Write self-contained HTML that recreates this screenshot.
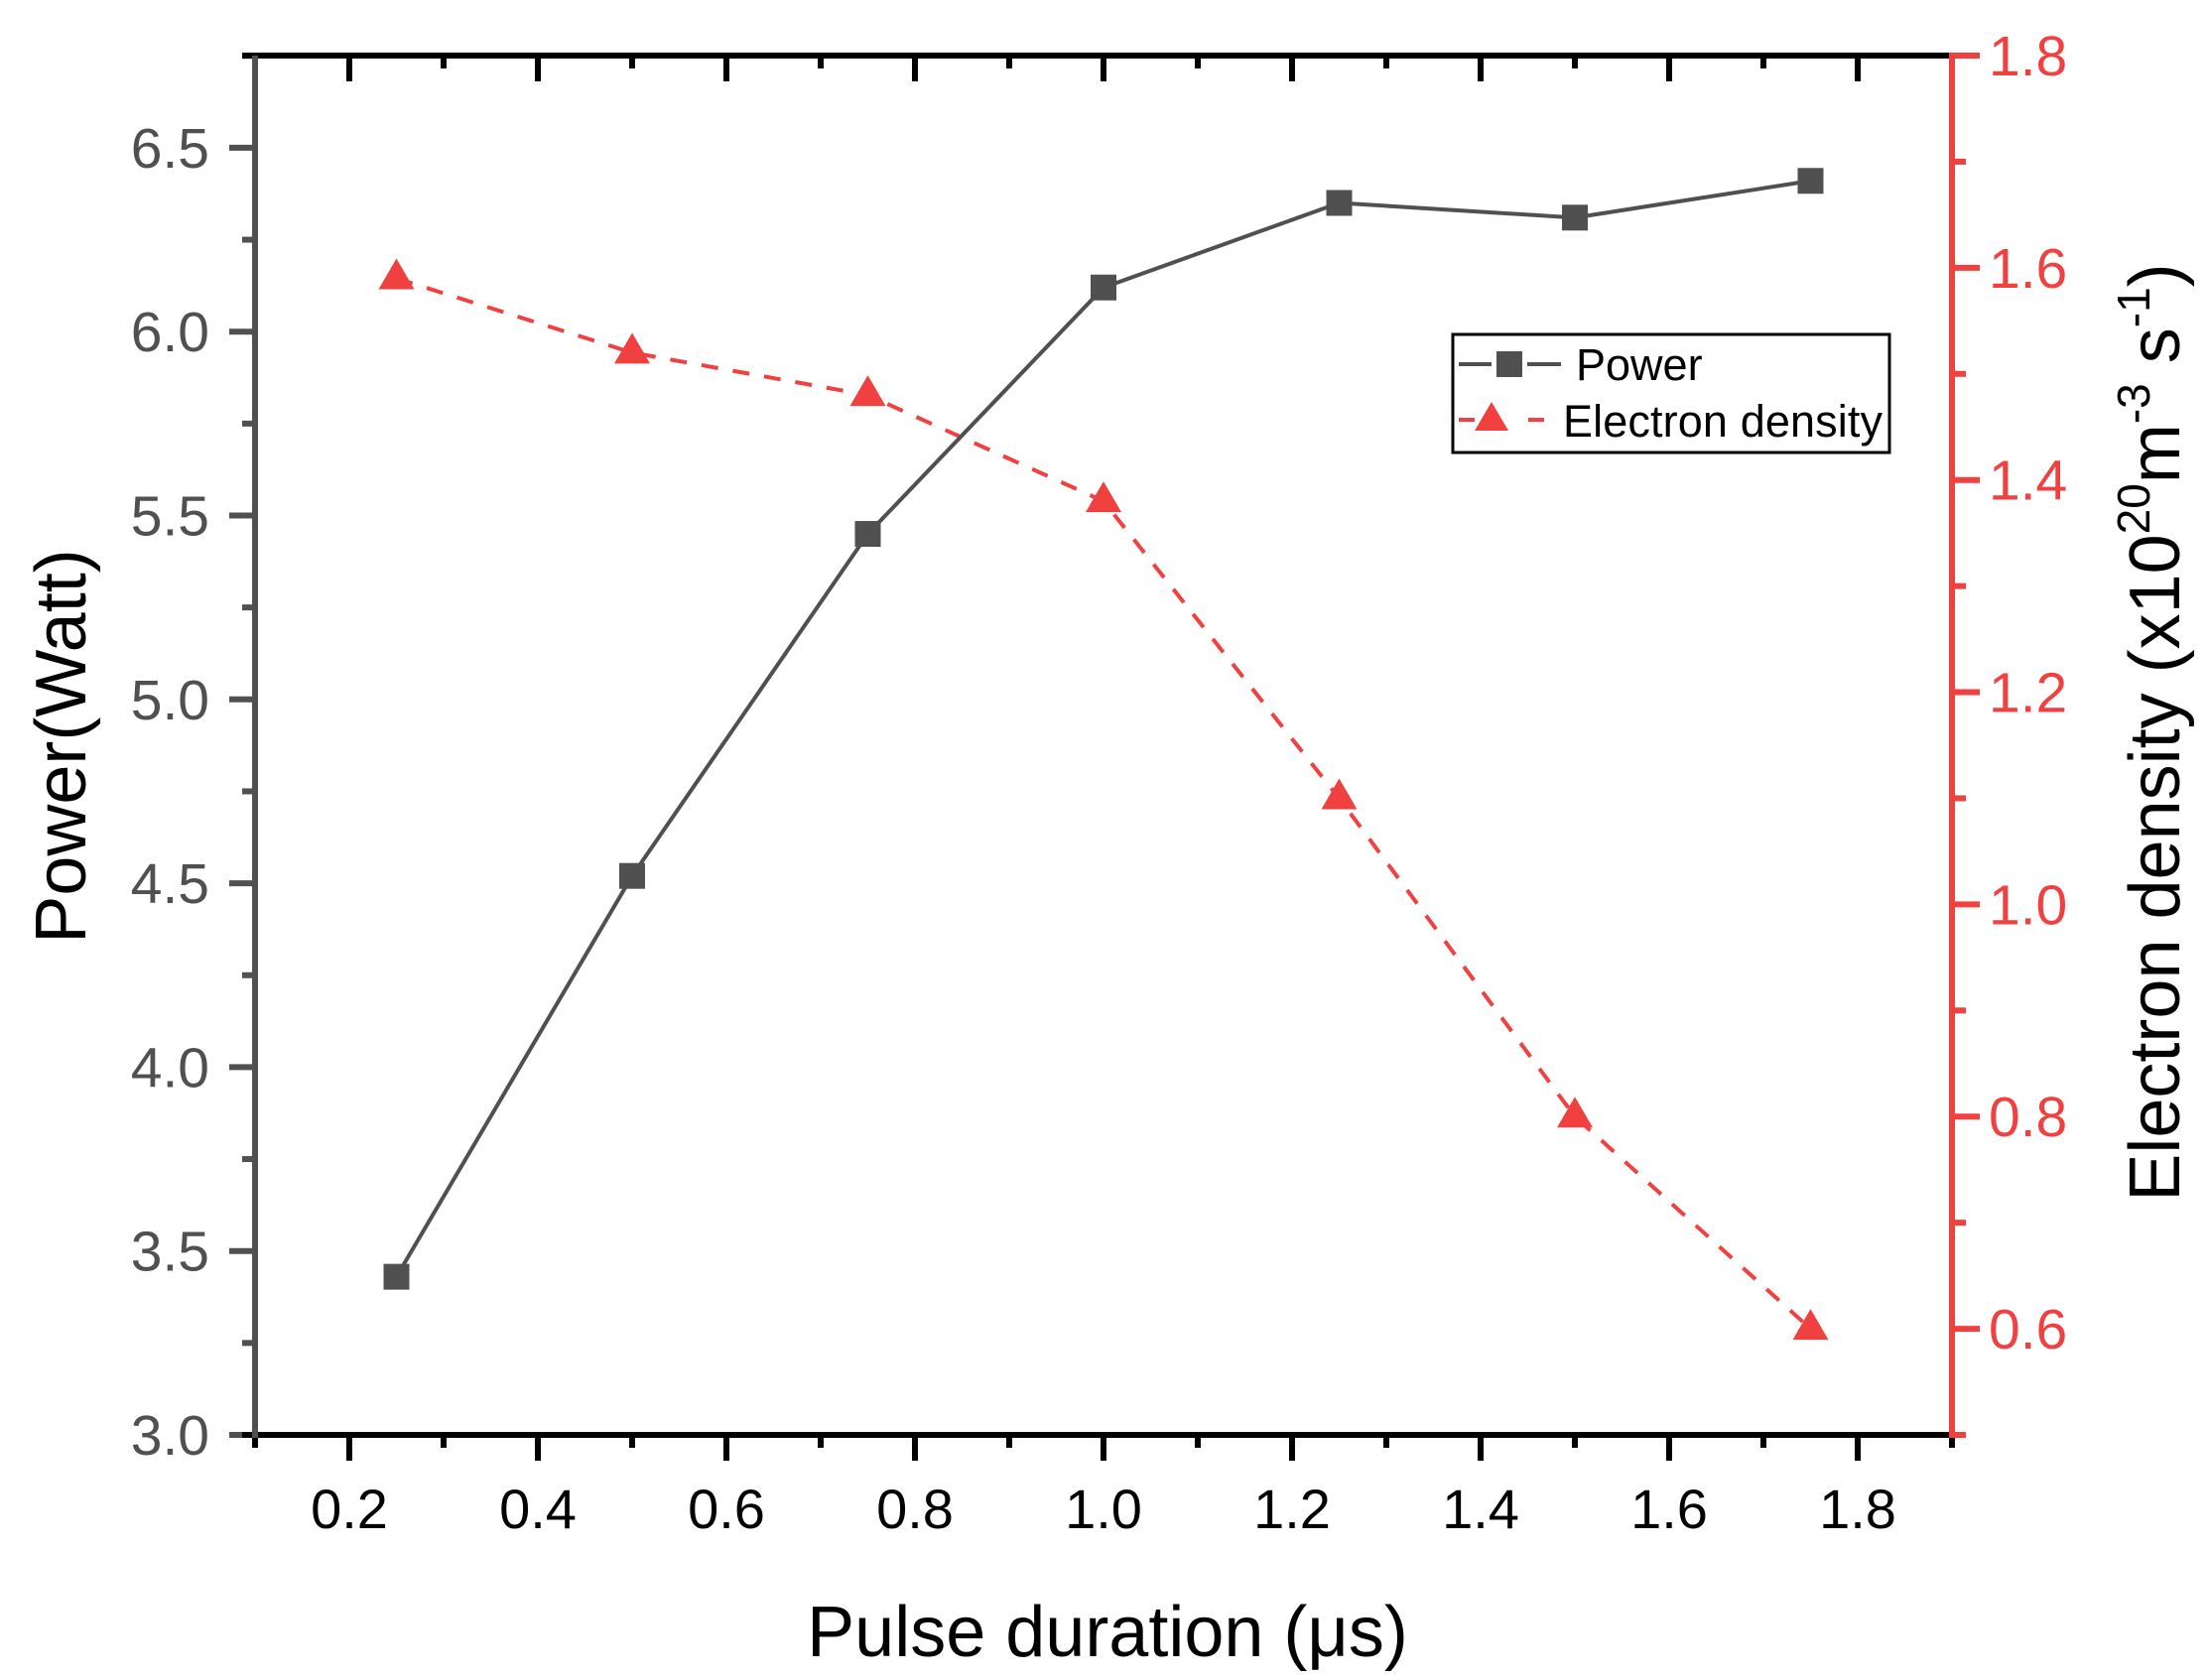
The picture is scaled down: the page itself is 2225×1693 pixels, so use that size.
<!DOCTYPE html>
<html><head><meta charset="utf-8">
<style>
html,body{margin:0;padding:0;background:#fff;}
svg{display:block;font-family:"Liberation Sans",Arial,sans-serif;}
</style></head>
<body>
<svg id="s" width="2225" height="1693" viewBox="0 0 2225 1693" xmlns="http://www.w3.org/2000/svg">
<rect width="2225" height="1693" fill="#fff"/>
<g id="g"></g>
<!-- legend -->
<rect x="1464" y="337" width="440" height="119" fill="#fff" stroke="#000" stroke-width="3"/>
<line x1="1470" y1="367" x2="1503" y2="367" stroke="#505050" stroke-width="4"/>
<line x1="1539" y1="367" x2="1573" y2="367" stroke="#505050" stroke-width="4"/>
<rect x="1508" y="354" width="26" height="26" fill="#505050"/>
<text x="1588" y="383" font-size="45" fill="#000">Power</text>
<line x1="1470" y1="423" x2="1486" y2="423" stroke="#f04040" stroke-width="4"/>
<line x1="1540" y1="423" x2="1556" y2="423" stroke="#f04040" stroke-width="4"/>
<polygon points="1503,405 1520,434 1486,434" fill="#f04040"/>
<text x="1575" y="440" font-size="45" textLength="322" fill="#000">Electron density</text>
<!-- axis titles -->
<text x="1116" y="1669" font-size="72" text-anchor="middle" fill="#000">Pulse duration (μs)</text>
<text transform="translate(86,752) rotate(-90)" font-size="72" text-anchor="middle" fill="#000">Power(Watt)</text>
<text transform="translate(2196,738) rotate(-90)" font-size="72" text-anchor="middle" fill="#000">Electron density (x10<tspan font-size="46" dy="-30">20</tspan><tspan dy="30">m</tspan><tspan font-size="46" dy="-30">-3</tspan><tspan dy="30"> s</tspan><tspan font-size="46" dy="-30">-1</tspan><tspan dy="30">)</tspan></text>
</svg>
<script>
var NS="http://www.w3.org/2000/svg",g=document.getElementById('g');
function el(t,a,txt){var e=document.createElementNS(NS,t);for(var k in a)e.setAttribute(k,a[k]);if(txt!==undefined)e.textContent=txt;g.appendChild(e);return e;}
var L=257,R=1967,T=56,B=1446;
function px(x){return L+(x-0.1)*(R-L)/1.8;}
function py(v){return B-(v-3)*370.6;}
function pr(v){return B-(v-0.5)*(B-T)/1.3;}
for(var i=1;i<=19;i++){var x=i/10,X=px(x),maj=(i%2==0);
 el('line',{x1:X,y1:B,x2:X,y2:B+(maj?26:13),stroke:'#000','stroke-width':6});
 el('line',{x1:X,y1:T,x2:X,y2:T+(maj?26:13),stroke:'#000','stroke-width':6});
 if(maj)el('text',{x:X,y:1540,'font-size':56,'text-anchor':'middle',fill:'#000'},x.toFixed(1));}
for(var i=0;i<=27;i++){var v=3+i*0.25,Y=py(v),maj=(i%2==0);
 el('line',{x1:L,y1:Y,x2:L-(maj?26:13),y2:Y,stroke:'#505050','stroke-width':6});
 if(maj)el('text',{x:211,y:Y+20,'font-size':57,'text-anchor':'end',fill:'#505050'},v.toFixed(1));}
for(var i=0;i<=13;i++){var v=0.5+i*0.1,Y=pr(v),maj=(i%2==1);
 el('line',{x1:R,y1:Y,x2:R+(maj?28:14),y2:Y,stroke:'#f04040','stroke-width':6});
 if(maj)el('text',{x:2004,y:Y+20,'font-size':57,fill:'#f04040'},v.toFixed(1));}
el('line',{x1:L-13,y1:T,x2:R,y2:T,stroke:'#000','stroke-width':6});
el('line',{x1:L-13,y1:B,x2:R,y2:B,stroke:'#000','stroke-width':6});
el('line',{x1:L,y1:T,x2:L,y2:B+3,stroke:'#505050','stroke-width':6});
el('line',{x1:R,y1:T-3,x2:R,y2:B+3,stroke:'#f04040','stroke-width':6});
var xs=[0.25,0.5,0.75,1.0,1.25,1.5,1.75];
var pw=[3.43,4.52,5.45,6.12,6.35,6.31,6.41];
var ed=[1.59,1.52,1.48,1.38,1.10,0.80,0.60];
var p1=xs.map(function(x,i){return px(x)+','+py(pw[i]);}).join(' ');
var p2=xs.map(function(x,i){return px(x)+','+pr(ed[i]);}).join(' ');
el('polyline',{points:p2,fill:'none',stroke:'#f04040','stroke-width':4,'stroke-dasharray':'17,15'});
el('polyline',{points:p1,fill:'none',stroke:'#505050','stroke-width':4});
xs.forEach(function(x,i){var X=px(x),Y=py(pw[i]);
 el('rect',{x:X-13,y:Y-13,width:26,height:26,fill:'#505050'});
 var Y2=pr(ed[i]);
 el('polygon',{points:X+','+(Y2-20)+' '+(X+18)+','+(Y2+11)+' '+(X-18)+','+(Y2+11),fill:'#f04040'});});
</script>
</body></html>
